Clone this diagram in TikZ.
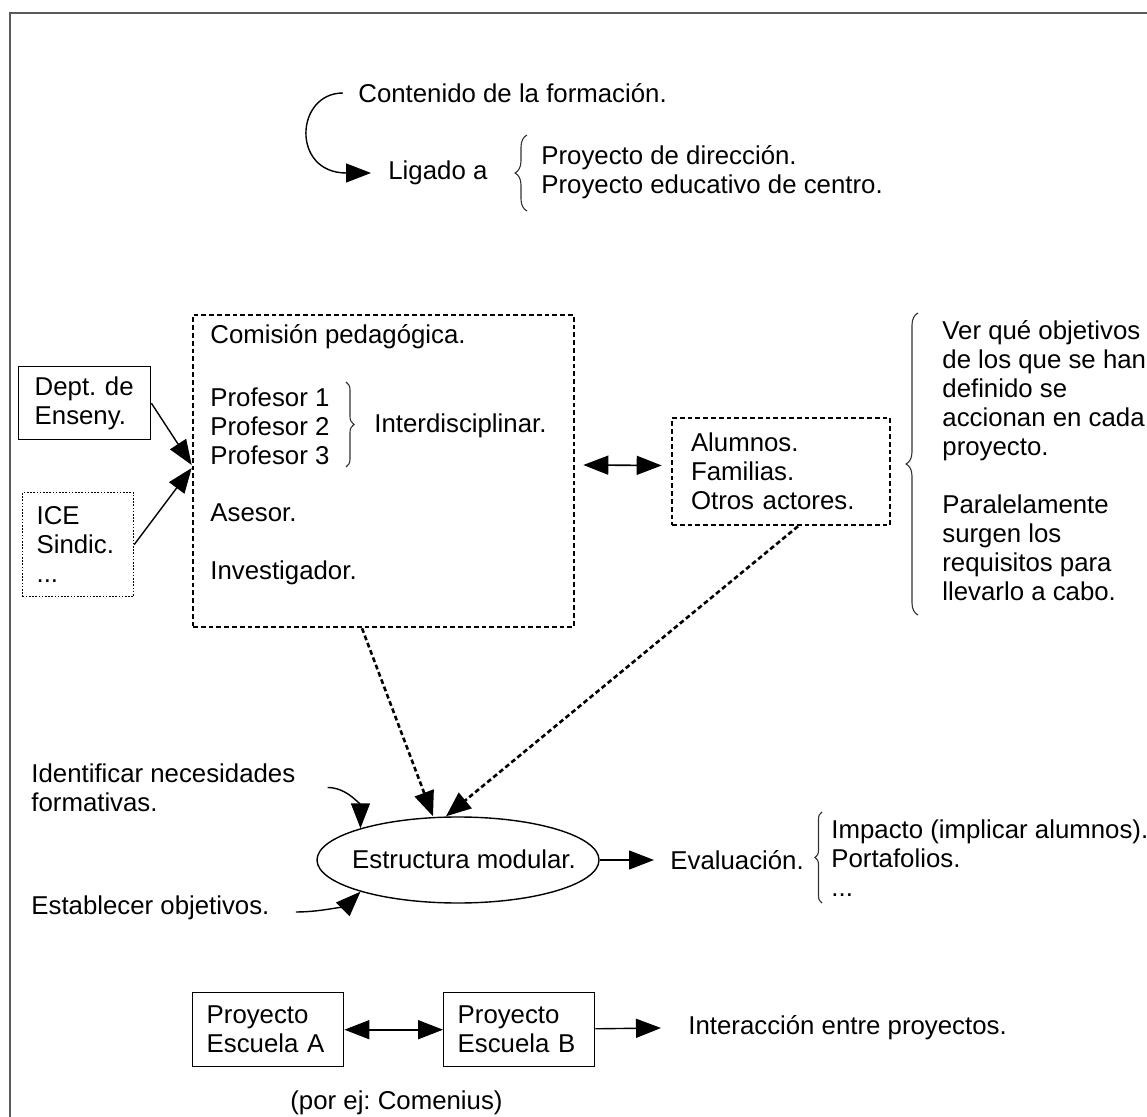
\documentclass[tikz,border=0pt]{standalone}
\usepackage{fontspec}
\setmainfont{Liberation Sans}
\usetikzlibrary{arrows.meta,decorations.pathreplacing,shapes.geometric}

\tikzset{
  lbl/.style={anchor=west,inner sep=0pt,align=left,
    font=\fontsize{12.9}{14.5}\selectfont\frenchspacing},
  plainbox/.style={draw,line width=0.7pt,inner xsep=7pt,inner ysep=0pt,align=left,
    font=\fontsize{12.9}{14.5}\selectfont\frenchspacing},
  dashbox/.style={draw,line width=1.3pt,dash pattern=on 2.4pt off 1.5pt},
  dotbox/.style={draw,line width=0.6pt,dash pattern=on 0.8pt off 0.8pt},
  arr/.style={line width=0.7pt,-{Triangle[length=12.5pt,width=9.5pt]}},
  darr/.style={line width=0.8pt,{Triangle[length=12.5pt,width=9.5pt]}-{Triangle[length=12.5pt,width=9.5pt]}},
  dasharr/.style={line width=1.3pt,dash pattern=on 2.4pt off 1.5pt,-{Triangle[length=12.5pt,width=10pt]}},
  curly/.style={decorate,decoration={brace,amplitude=#1},line width=0.55pt,black!80},
}

\begin{document}
\begin{tikzpicture}[x=0.5pt,y=-0.5pt]
\useasboundingbox (0,0) rectangle (1147,1117);
% frame
\draw[black!65,line width=1pt] (10,1117) -- (10,13) -- (1147,13);

% top
\node[lbl] (contenido) at (358,93) {Contenido de la formación.};
\node[lbl] (ligado) at (388,173) {Ligado a};
\node[lbl] (proyectos) at (541,172.5) {Proyecto de dirección.\\Proyecto educativo de centro.};
\draw[curly=6pt] (527,211) -- (527,135);
\draw[arr] ([xshift=-7.5pt]contenido.west) .. controls +(-24pt,0) and +(-40pt,0) .. ([xshift=-8.5pt]ligado.west);

% comision pedagogica
\node[dashbox,minimum width=190.5pt,minimum height=156pt] (comision) at (383.5,471) {};
\node[lbl] (titulo) at (210,337) {Comisión pedagógica.};
\node[lbl] (profes) at (210,426) {Profesor 1\\Profesor 2\\Profesor 3};
\node[lbl] (interdis) at (374,426) {Interdisciplinar.};
\node[lbl] (asesor) at (210,513) {Asesor.};
\node[lbl] (investig) at (210,573) {Investigador.};
\draw[curly=4pt] (346,382) -- (346,467);

\node[plainbox,text width=50pt,inner xsep=8pt,minimum height=36.5pt,anchor=north west] (dept) at (18,366) {Dept. de\\Enseny.};
\node[plainbox,dotbox,text width=41.5pt,minimum height=52pt,anchor=north west] (ice) at (22,492) {ICE\\Sindic.\\...};
\draw[arr] (dept.east) -- ([yshift=3pt]comision.west);
\draw[arr] (ice.east) -- ([yshift=1.5pt]comision.west);

\node[plainbox,dashbox,text width=90pt,inner xsep=9.5pt,minimum height=53.5pt] (alumnos) at (781,471.5) {Alumnos.\\Familias.\\Otros actores.};
\draw[darr] ([xshift=4pt,yshift=3pt]comision.east) -- ([xshift=-4.5pt,yshift=3pt]alumnos.west);

\node[lbl] (nota) at (942,460.5) {Ver qué objetivos\\de los que se han\\definido se\\accionan en cada\\proyecto.\\[14.5pt]Paralelamente\\surgen los\\requisitos para\\llevarlo a cabo.};
\draw[curly=6pt] (918,615) -- (918,313);

% estructura modular
\node[draw,ellipse,line width=0.7pt,minimum width=141pt,minimum height=43pt,inner sep=0pt] (modular) at (458,860) {};
\node[lbl,anchor=center] (modtxt) at (464,859) {Estructura modular.};
\draw[dasharr] ([xshift=-10.75pt]comision.south) -- ([xshift=-12.5pt]modular.north);
\draw[dasharr] ([xshift=8.5pt]alumnos.south) -- ([xshift=-6pt]modular.north);

\node[lbl] (identificar) at (31,787.5) {Identificar necesidades\\formativas.};
\draw[arr] ([xshift=16pt]identificar.east) .. controls +(10pt,0) and +(0,11pt) .. (modular.162);
\node[lbl] (establecer) at (31,908) {Establecer objetivos.};
\draw[arr] ([xshift=13pt,yshift=-2pt]establecer.east) .. controls +(15pt,0) and +(-6pt,-6pt) .. (modular.198);

\node[lbl] (evaluacion) at (670,860) {Evaluación.};
\draw[arr] (modular.east) -- ([xshift=-8pt]evaluacion.west);
\draw[curly=3.5pt] (822,903) -- (822,812);
\node[lbl] (impacto) at (831,858) {Impacto (implicar alumnos).\\Portafolios.\\...};

% proyectos escuela
\node[plainbox,text width=61.5pt,minimum height=37pt,anchor=north west] (escuelaA) at (192,992) {Proyecto\\Escuela A};
\node[plainbox,text width=61.5pt,minimum height=37pt,anchor=north west] (escuelaB) at (443,992) {Proyecto\\Escuela B};
\draw[darr] (escuelaA) -- (escuelaB);
\node[lbl] (interaccion) at (688,1028) {Interacción entre proyectos.};
\draw[arr] (escuelaB) -- ([xshift=-13.5pt]interaccion.west);
\node[lbl] (comenius) at (290,1103) {(por ej: Comenius)};
\end{tikzpicture}
\end{document}
